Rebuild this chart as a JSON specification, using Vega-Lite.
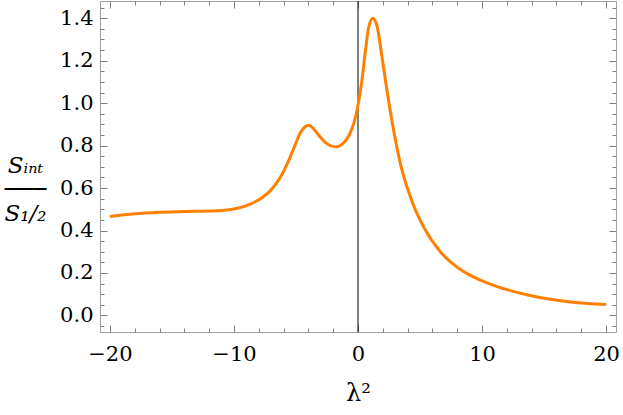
{
  "$schema": "https://vega.github.io/schema/vega-lite/v6.json",
  "width": 516,
  "height": 331,
  "autosize": {"type": "none"},
  "padding": {"left": 100, "top": 1, "right": 7, "bottom": 83},
  "background": "white",
  "config": {
    "view": {"stroke": "#a0a0a0", "strokeWidth": 1},
    "axis": {"labelColor": "black", "titleColor": "black", "tickColor": "#7f7f7f", "domain": false, "grid": false}
  },
  "datasets": {
    "curve": [
      {"l2": -20, "s": 0.466}, {"l2": -18, "s": 0.479}, {"l2": -16, "s": 0.486}, {"l2": -14, "s": 0.490},
      {"l2": -12, "s": 0.492}, {"l2": -11, "s": 0.494}, {"l2": -10.4, "s": 0.498}, {"l2": -9.62, "s": 0.506},
      {"l2": -8.55, "s": 0.528}, {"l2": -7.74, "s": 0.554}, {"l2": -6.94, "s": 0.596}, {"l2": -6.26, "s": 0.651},
      {"l2": -5.59, "s": 0.729}, {"l2": -5.05, "s": 0.806}, {"l2": -4.65, "s": 0.860}, {"l2": -4.24, "s": 0.890},
      {"l2": -3.98, "s": 0.896}, {"l2": -3.57, "s": 0.879}, {"l2": -3.03, "s": 0.839}, {"l2": -2.5, "s": 0.808},
      {"l2": -1.82, "s": 0.794}, {"l2": -1.29, "s": 0.806}, {"l2": -0.75, "s": 0.845}, {"l2": -0.35, "s": 0.902},
      {"l2": 0, "s": 0.99}, {"l2": 0.3, "s": 1.10},
      {"l2": 0.6, "s": 1.246}, {"l2": 0.86, "s": 1.356}, {"l2": 1.19, "s": 1.400}, {"l2": 1.53, "s": 1.364},
      {"l2": 1.94, "s": 1.215}, {"l2": 2.34, "s": 1.058}, {"l2": 2.88, "s": 0.870}, {"l2": 3.42, "s": 0.714},
      {"l2": 4.23, "s": 0.557}, {"l2": 5.3, "s": 0.416}, {"l2": 6.65, "s": 0.299}, {"l2": 8.26, "s": 0.216},
      {"l2": 9.87, "s": 0.166}, {"l2": 10.54, "s": 0.150}, {"l2": 12.15, "s": 0.119}, {"l2": 13.77, "s": 0.095},
      {"l2": 15.38, "s": 0.077}, {"l2": 16.99, "s": 0.064}, {"l2": 18.6, "s": 0.056}, {"l2": 20, "s": 0.052}
    ],
    "origin": [{"l2": 0}]
  },
  "resolve": {"axis": {"x": "independent", "y": "independent"}},
  "layer": [
    {
      "data": {"name": "origin"},
      "mark": {"type": "rule", "color": "black", "strokeWidth": 1},
      "encoding": {
        "x": {"field": "l2", "type": "quantitative", "scale": {"domain": [-20.8, 20.8], "nice": false, "zero": false},
          "axis": {"orient": "top", "values": [-20,-18,-16,-14,-12,-10,-8,-6,-4,-2,0,2,4,6,8,10,12,14,16,18,20],
            "labels": false, "title": null,
            "tickSize": {"condition": {"test": "datum.value % 10 === 0", "value": -7}, "value": -4}}}
      }
    },
    {
      "data": {"name": "curve"},
      "mark": {"type": "line", "color": "#ff8000", "strokeWidth": 3, "interpolate": "monotone"},
      "encoding": {
        "x": {"field": "l2", "type": "quantitative", "scale": {"domain": [-20.8, 20.8], "nice": false, "zero": false},
          "axis": {"orient": "bottom", "values": [-20,-18,-16,-14,-12,-10,-8,-6,-4,-2,0,2,4,6,8,10,12,14,16,18,20],
            "labelExpr": "datum.value % 10 === 0 ? datum.label : ''", "labelOverlap": false, "labelFlush": false,
            "labelFont": "DejaVu Serif", "titleFont": "DejaVu Serif",
            "labelFontSize": 21, "labelPadding": 18,
            "tickSize": {"condition": {"test": "datum.value % 10 === 0", "value": -7}, "value": -4},
            "title": "λ²", "titleFontSize": 24, "titleFontWeight": "normal", "titlePadding": 14}},
        "y": {"field": "s", "type": "quantitative", "scale": {"domain": [-0.078, 1.481], "nice": false, "zero": false},
          "axis": {"orient": "left", "values": [-0.05,0,0.05,0.1,0.15,0.2,0.25,0.3,0.35,0.4,0.45,0.5,0.55,0.6,0.65,0.7,0.75,0.8,0.85,0.9,0.95,1,1.05,1.1,1.15,1.2,1.25,1.3,1.35,1.4,1.45],
            "labelExpr": "round(datum.value*20) % 4 === 0 ? format(datum.value, '.1f') : ''", "labelOverlap": false, "labelFlush": false,
            "labelFont": "DejaVu Serif",
            "titleFont": "DejaVu Serif",
            "labelFontSize": 21, "labelPadding": 14,
            "tickSize": {"condition": {"test": "round(datum.value*20) % 4 === 0", "value": -7}, "value": -4},
            "title": ["Sᵢₙₜ", "───", "S₁/₂"], "titleFontSize": 23, "titleFontWeight": "normal", "titleFontStyle": "italic",
            "titleAngle": 0, "titleAlign": "center", "titleBaseline": "middle", "titleLineHeight": 24,
            "titleX": -75, "titleY": 164}}
      }
    },
    {
      "data": {"name": "curve"},
      "mark": {"type": "point", "opacity": 0},
      "encoding": {
        "x": {"field": "l2", "type": "quantitative", "axis": null},
        "y": {"field": "s", "type": "quantitative",
          "axis": {"orient": "right", "values": [-0.05,0,0.05,0.1,0.15,0.2,0.25,0.3,0.35,0.4,0.45,0.5,0.55,0.6,0.65,0.7,0.75,0.8,0.85,0.9,0.95,1,1.05,1.1,1.15,1.2,1.25,1.3,1.35,1.4,1.45],
            "labels": false, "title": null,
            "tickSize": {"condition": {"test": "round(datum.value*20) % 4 === 0", "value": -7}, "value": -4}}}
      }
    }
  ]
}
